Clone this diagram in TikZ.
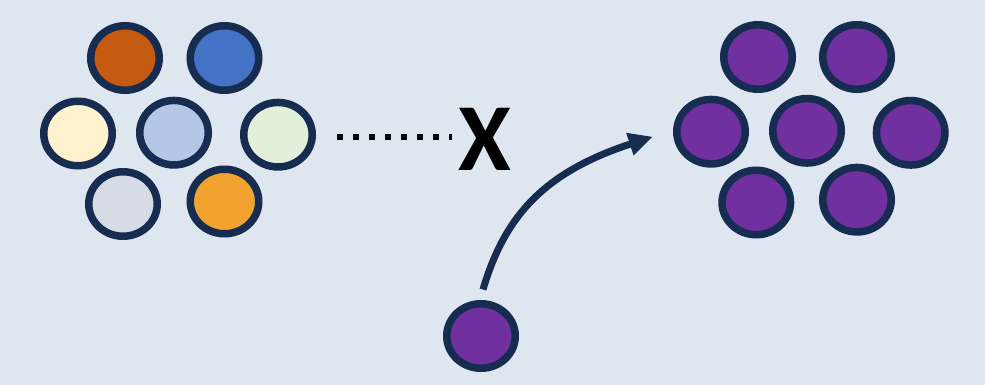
\documentclass[tikz,border=0pt]{standalone}
\usepackage{fontspec}
\setmainfont{Carlito}
\usetikzlibrary{shapes.geometric,arrows.meta}
\definecolor{bg}{HTML}{DEE6F0}
\definecolor{navy}{HTML}{172C51}
\definecolor{cOrange}{HTML}{C55A11}
\definecolor{cBlue}{HTML}{4472C4}
\definecolor{cCream}{HTML}{FFF2CC}
\definecolor{cLblue}{HTML}{B4C7E7}
\definecolor{cGreen}{HTML}{E2F0D9}
\definecolor{cGrey}{HTML}{D6DCE5}
\definecolor{cGold}{HTML}{F2A22E}
\definecolor{cPurple}{HTML}{7030A0}
\tikzset{
  ball/.style={ellipse, draw=navy, line width=7.5pt, minimum width=68.5pt, minimum height=64.5pt, inner sep=0pt},
  pball/.style={ball, fill=cPurple},
}
\begin{document}
\begin{tikzpicture}[x=1pt,y=-1pt]
\fill[bg] (0,0) rectangle (985,385);
\useasboundingbox (0,0) rectangle (985,385);
% left cluster
\node[ball, fill=cOrange] (l1) at (125,58) {};
\node[ball, fill=cBlue] (l2) at (224.5,58) {};
\node[ball, fill=cCream] (l3) at (78,133.5) {};
\node[ball, fill=cLblue] (l4) at (174,132.7) {};
\node[ball, fill=cGreen] (l5) at (278,134.7) {};
\node[ball, fill=cGrey] (l6) at (123,204) {};
\node[ball, fill=cGold] (l7) at (224.5,201.5) {};
% right cluster
\node[pball] (r1) at (758,57) {};
\node[pball] (r2) at (857,57) {};
\node[pball] (r3) at (711,131.7) {};
\node[pball] (r4) at (807,130.8) {};
\node[pball] (r5) at (910.7,132.8) {};
\node[pball] (r6) at (756.3,202.5) {};
\node[pball] (r7) at (857,199.7) {};
% lone
\node[pball] (lone) at (481,336) {};
% X mark
\node[inner sep=0pt, font=\fontsize{96}{96}\selectfont\bfseries] (xm) at (485,139) {X};
\coordinate (dstart) at (337,137.5);
\draw[line width=6pt, dash pattern=on 6pt off 10pt] (dstart) -- ([xshift=-6pt]xm.west |- dstart);
% arrow
\coordinate (tip) at (652.7,136.7);
\draw[navy, line width=7pt, -{Triangle[length=24pt,width=22pt]}]
  ([xshift=2pt,yshift=10.5pt]lone.north) .. controls (505,215) and (545,172) .. (tip);
\end{tikzpicture}
\end{document}
